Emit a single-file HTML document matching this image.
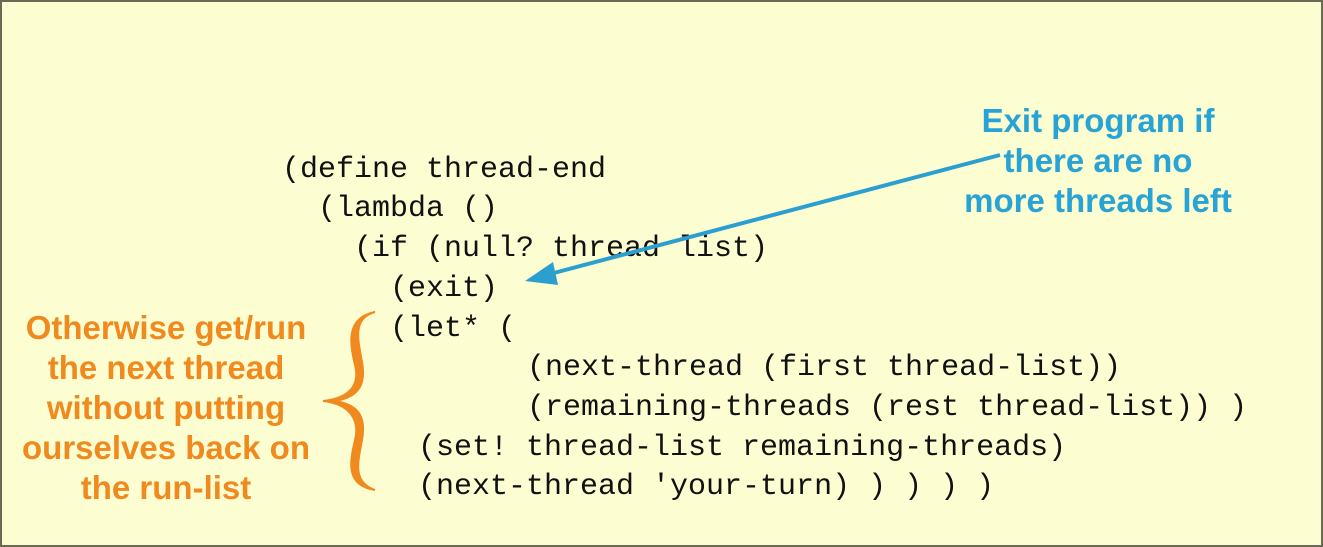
<!DOCTYPE html>
<html><head><style>
body{margin:0;width:1323px;height:547px;overflow:hidden;background:#fdfdd2;}
.f{position:absolute;left:0;top:0;width:1319px;height:543px;border:2px solid #6b6b55;background:#fdfdd2;}
.c{position:absolute;font-family:"Liberation Mono",monospace;font-size:30px;color:#111;white-space:pre;line-height:1;}
.t{position:absolute;font-family:"Liberation Sans",sans-serif;font-weight:bold;font-size:33px;text-align:center;line-height:40px;}
</style></head><body><div class="f"></div>
<div class="c" style="left:282px;top:155px">(define thread-end</div>
<div class="c" style="left:318px;top:194px">(lambda ()</div>
<div class="c" style="left:354px;top:234px">(if (null? thread list)</div>
<div class="c" style="left:390px;top:274px">(exit)</div>
<div class="c" style="left:390px;top:314px">(let* (</div>
<div class="c" style="left:527px;top:353px">(next-thread (first thread-list))</div>
<div class="c" style="left:527px;top:393px">(remaining-threads (rest thread-list)) )</div>
<div class="c" style="left:418px;top:433px">(set! thread-list remaining-threads)</div>
<div class="c" style="left:418px;top:472px">(next-thread 'your-turn) ) ) ) )</div>
<div class="t" style="left:920px;top:101px;width:356px;color:#27a3d6">Exit program if<br>there are no<br>more threads left</div>
<div class="t" style="left:-14px;top:308px;width:360px;color:#f08a1e">Otherwise get/run<br>the next thread<br>without putting<br>ourselves back on<br>the run-list</div>
<svg style="position:absolute;left:0;top:0" width="1323" height="547">
<line x1="1000" y1="155" x2="550" y2="274" stroke="#2a9fd0" stroke-width="4"/>
<polygon points="525,281 553,262 558,285" fill="#2a9fd0"/>
<path d="M375,312 C345,318 350,345 355,365 C360,385 350,398 323,401 C350,404 360,420 355,440 C350,462 345,485 375,490 C352,482 358,462 362,440 C366,418 360,405 335,401 C360,397 366,383 362,362 C358,340 352,318 375,312 Z" fill="#f08a1e" stroke="#f08a1e" stroke-width="2"/>
</svg>
</body></html>
